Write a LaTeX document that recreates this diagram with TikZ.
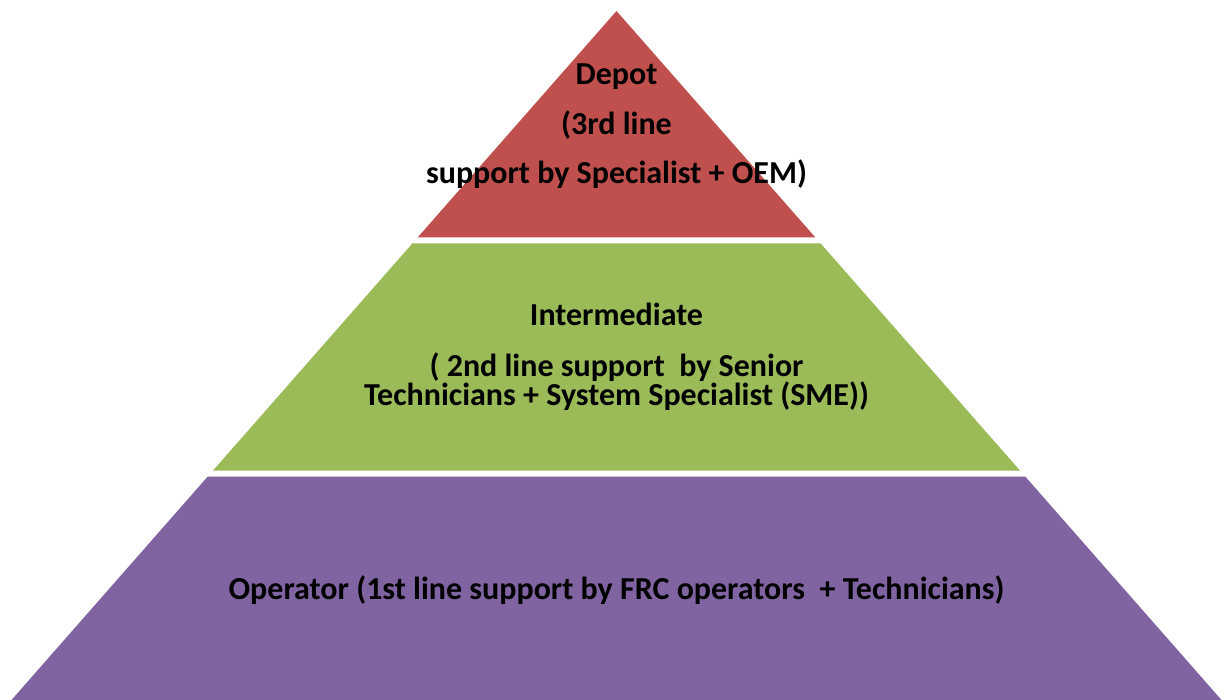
\documentclass[tikz,border=0pt]{standalone}
\usepackage{fontspec}
\setmainfont{Carlito}
\usepackage{tikz}

\definecolor{depotred}{HTML}{C0504D}
\definecolor{midgreen}{HTML}{9BBB59}
\definecolor{oppurple}{HTML}{8064A2}

\begin{document}
\begin{tikzpicture}[x=1pt, y=-1pt,
    label/.style={anchor=base, inner sep=0pt, font=\fontsize{32}{38}\selectfont\bfseries}]
                \useasboundingbox (0, 0) rectangle (1225, 700);

                \coordinate (p1) at (616.5, 11);
                \coordinate (p2) at (417.6, 237.5);
                \coordinate (p3) at (815.4, 237.5);
                \coordinate (p4) at (412.5, 243.3);
                \coordinate (p5) at (820.5, 243.3);
                \coordinate (p6) at (1020.1, 470.7);
                \coordinate (p7) at (212.9, 470.7);
                \coordinate (p8) at (207.6, 476.7);
                \coordinate (p9) at (1025.4, 476.7);
                \coordinate (p10) at (1221.5, 700);
                \coordinate (p11) at (11.5, 700);

                \fill[depotred] (p1) -- (p3) -- (p2) -- cycle;
                \fill[midgreen] (p4) -- (p5) -- (p6) -- (p7) -- cycle;
                \fill[oppurple] (p8) -- (p9) -- (p10) -- (p11) -- cycle;

                \node[label] (depot1) at (616.5, 84.8) {Depot};
                \node[label] (depot2) at (616.5, 134.8) {(3rd line};
                \node[label] (depot3) at (616.5, 183.2) {support by Specialist + OEM)};

                \node[label] (inter1) at (616.5, 325.8) {Intermediate};
                \node[label] (inter2) at (616.5, 376) {( 2nd line support\ \ by Senior};
                \node[label] (inter3) at (616.5, 405.8) {Technicians + System Specialist (SME))};

                \node[label] (oper) at (616.5, 599.5) {Operator (1st line support by FRC operators\ \ + Technicians)};
            \end{tikzpicture}
\end{document}
